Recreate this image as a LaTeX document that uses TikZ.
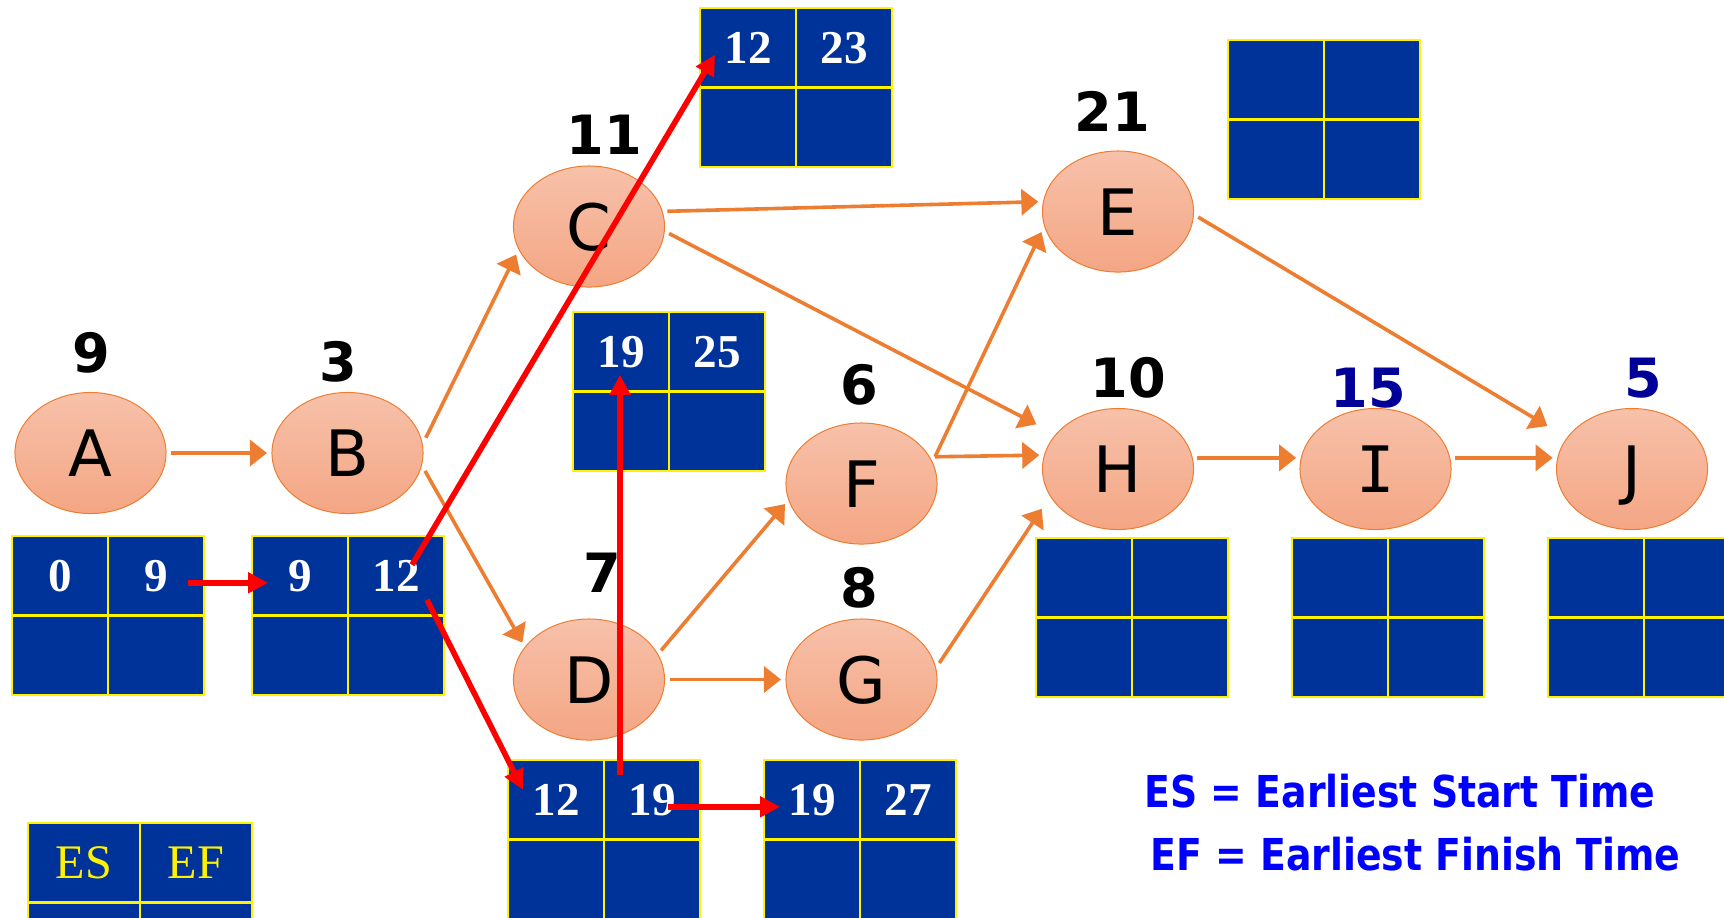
\documentclass[tikz,border=0pt]{standalone}
\usepackage{fontspec}
\setmainfont{Liberation Serif}
\setsansfont{DejaVu Sans}
\newfontfamily\serifsans{DejaVu Sans Mono}
\usetikzlibrary{arrows.meta,shapes.geometric}

\definecolor{boxblue}{RGB}{0,51,153}
\definecolor{cpmorange}{RGB}{237,125,49}
\definecolor{nodetop}{RGB}{247,193,170}
\definecolor{nodebottom}{RGB}{244,166,132}
\definecolor{durnavy}{RGB}{0,0,153}

\tikzset{
  activity/.style={ellipse, draw=cpmorange, line width=0.01cm,
    top color=nodetop, bottom color=nodebottom,
    minimum width=1.51cm, minimum height=1.21cm, inner sep=0pt, outer sep=0.05cm,
    text height=0.47cm, text depth=0pt, font=\sffamily\fontsize{18.2}{20}\selectfont},
  duration/.style={inner sep=0pt, font=\sffamily\bfseries\fontsize{15.4}{18}\selectfont},
  cell/.style={draw=yellow, fill=boxblue, line width=0.022cm,
    minimum width=0.96cm, minimum height=0.795cm, inner sep=0pt, outer sep=0pt,
    anchor=north west, text=white, font=\bfseries\fontsize{13.4}{16}\selectfont},
  linkarrow/.style={-{Triangle[length=0.17cm,width=0.26cm]}, draw=cpmorange, line width=0.036cm},
  passarrow/.style={-{Triangle[length=0.2cm,width=0.2cm]}, draw=red, line width=0.056cm},
}

% ES/EF box: name, x, y, ES, EF
\newcommand{\esefbox}[5]{%
  \node[cell] (#1-es) at (#2,#3) {#4};
  \node[cell] (#1-ef) at (#2+96,#3) {#5};
  \node[cell] (#1-ls) at (#2,#3+79.5) {};
  \node[cell] (#1-lf) at (#2+96,#3+79.5) {};
}

\begin{document}
\begin{tikzpicture}[x=0.01cm,y=-0.01cm]
  \useasboundingbox (0,0) rectangle (1724,917);
  \clip (0,0) rectangle (1724,917);

  % time boxes
  \esefbox{A}{12}{536}{0}{9}
  \esefbox{B}{252}{536}{9}{12}
  \esefbox{C}{700}{8}{12}{23}
  \esefbox{F}{573}{312}{19}{25}
  \esefbox{D}{508}{760}{12}{19}
  \esefbox{G}{764}{760}{19}{27}
  \esefbox{E}{1228}{40}{}{}
  \esefbox{H}{1036}{538}{}{}
  \esefbox{I}{1292}{538}{}{}
  \esefbox{J}{1548}{538}{}{}

  % key box
  \node[cell, minimum width=1.12cm, text=yellow, font=\fontsize{13.7}{16}\selectfont] (key-es) at (28,823) {ES};
  \node[cell, minimum width=1.12cm, text=yellow, font=\fontsize{13.7}{16}\selectfont] (key-ef) at (140,823) {EF};
  \node[cell, minimum width=1.12cm] (key-ls) at (28,902.5) {};
  \node[cell, minimum width=1.12cm] (key-lf) at (140,902.5) {};

  % activities
  \node[activity] (A) at (90.5,453) {A};
  \node[activity] (B) at (347.5,453) {B};
  \node[activity] (C) at (589,226.5) {C};
  \node[activity] (D) at (589,679.5) {D};
  \node[activity] (E) at (1118,211.5) {E};
  \node[activity] (F) at (861.5,483.5) {F};
  \node[activity] (G) at (861.5,679.5) {G};
  \node[activity] (H) at (1118,469) {H};
  \node[activity] (I) at (1375.5,469) {\serifsans I};
  \node[activity] (J) at (1632,469) {J};

  % durations
  \node[duration] (durA) at (91,353) {9};
  \node[duration] (durB) at (338,362) {3};
  \node[duration] (durC) at (604,135) {11};
  \node[duration] (durD) at (602,573) {7};
  \node[duration] (durE) at (1112,111) {21};
  \node[duration] (durF) at (859,385) {6};
  \node[duration] (durG) at (859,588) {8};
  \node[duration] (durH) at (1128,378) {10};
  \node[duration, text=durnavy] (durI) at (1368,388) {15};
  \node[duration, text=durnavy] (durJ) at (1643,378) {5};

  % precedence
  \draw[linkarrow] (A) -- (B);
  \draw[linkarrow] (B.11) -- (C.201);
  \draw[linkarrow] (B.-13) -- (D.151);
  \draw[linkarrow] (C.11) -- (E.173);
  \draw[linkarrow, shorten >=0.17cm] (C.-5) -- (H.151);
  \draw[linkarrow] (D.22) -- (F.195);
  \draw[linkarrow] (D) -- (G);
  \draw[linkarrow] (F.20) -- (E.195);
  \draw[linkarrow] (F.20) -- (H.170);
  \draw[linkarrow, shorten >=0.1cm] (G.12) -- (H.204);
  \draw[linkarrow, shorten >=0.18cm] (E.-4) -- (J.154);
  \draw[linkarrow] (H.8) -- (I.172);
  \draw[linkarrow] (I.8) -- (J.172);

  % forward pass
  \draw[passarrow] ([shift={(32,7)}]A-ef.center) -- ([shift={(-32,7)}]B-es.center);
  \draw[passarrow] ([shift={(16,-11)}]B-ef.center) -- ([shift={(-33,7)}]C-es.center);
  \draw[passarrow] ([shift={(31,24)}]B-ef.center) -- ([shift={(-33,-10)}]D-es.center);
  \draw[passarrow] ([shift={(-32,-25)}]D-ef.center) -- ([shift={(-1,23)}]F-es.center);
  \draw[passarrow] ([shift={(16,7)}]D-ef.center) -- ([shift={(-32,7)}]G-es.center);

  % legend
  \node[anchor=base west, inner sep=0pt, text=blue, font=\sffamily\bfseries\fontsize{12.5}{15}\selectfont] (es-text) at (1144,807) {\scalebox{0.86}[1]{ES = Earliest Start Time}};
  \node[anchor=base west, inner sep=0pt, text=blue, font=\sffamily\bfseries\fontsize{12.5}{15}\selectfont] (ef-text) at (1150,870) {\scalebox{0.86}[1]{EF = Earliest Finish Time}};
\end{tikzpicture}
\end{document}
